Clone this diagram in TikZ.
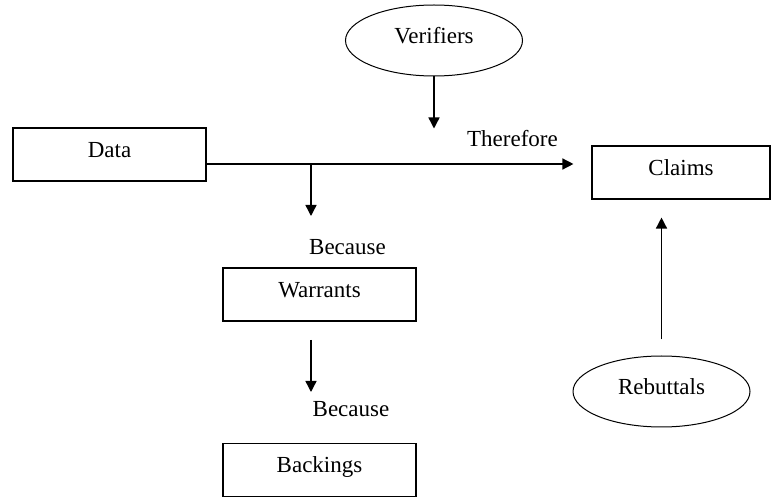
\documentclass[tikz,border=0pt]{standalone}
\usepackage{fontspec}
\setmainfont{Liberation Serif}
\usetikzlibrary{arrows.meta, shapes.geometric}

\begin{document}
\begin{tikzpicture}[x=0.5pt, y=-0.5pt, >={Triangle[length=5.5pt,width=5.5pt]},
  line width=0.7pt, font=\fontsize{11.5}{14}\selectfont,
  box/.style={draw, line width=0.55pt, minimum width=96.5pt, minimum height=26.5pt,
    inner sep=0pt, text height=8pt, text depth=5pt},
  oval/.style={draw, ellipse, line width=0.5pt, minimum width=88.5pt, minimum height=35.5pt,
    inner sep=0pt, text height=8pt, text depth=5pt}]
\useasboundingbox (0,0) rectangle (772,497);
% Nodos
\node[box] (data) at (109.5,154.5) {Data};
\node[box, minimum width=89pt] (claims) at (681,172.5) {Claims};
\node[box] (warrants) at (319.5,294.5) {Warrants};
\node[box] (backings) at (319.5,470) {Backings};
\node[oval] (verifiers) at (434,40.5) {Verifiers};
\node[oval] (rebuttals) at (661.5,391.5) {Rebuttals};

% Etiquetas
\node (therefore) at (512.5,139) {Therefore};
\node (because1) at (347.5,247) {Because};
\node (because2) at (351,409) {Because};

% Conexiones
\coordinate (d) at ([yshift=-4.75pt]data.east);
\coordinate (split) at (311,164);
\coordinate (w) at (311,340);
\draw[->, shorten >=9pt] (d) -- (d -| claims.west);
\draw[->] (split) -- ++(0,-26pt);
\draw[->] (verifiers.south) -- ++(0,-26pt);
\draw[->] (w) -- ++(0,-26pt);
\draw[->, shorten <=8pt, shorten >=9pt] (rebuttals.north) -- (rebuttals.north |- claims.south);
\end{tikzpicture}
\end{document}
